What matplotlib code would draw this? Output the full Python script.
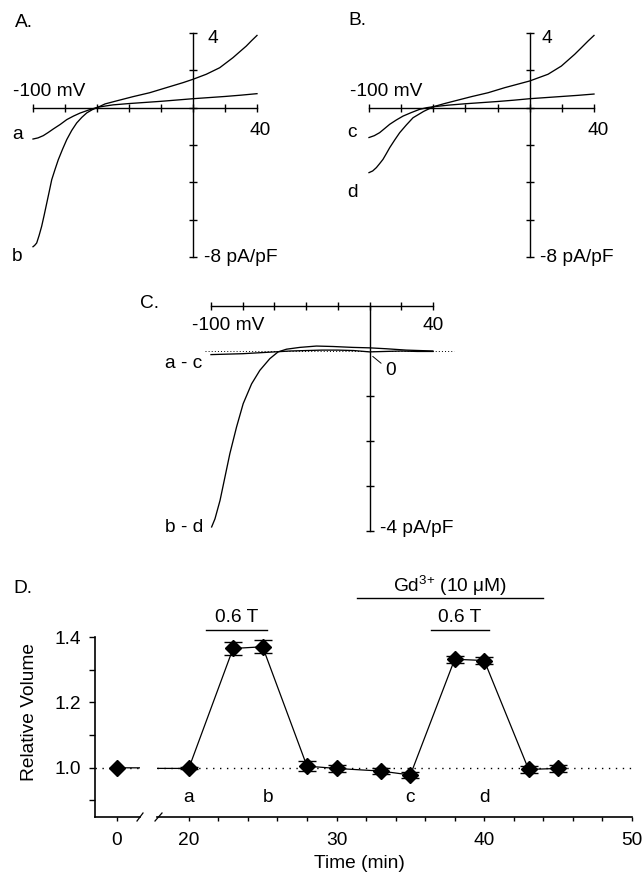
import matplotlib
matplotlib.use('Agg')
import matplotlib.pyplot as plt
from matplotlib.ticker import NullFormatter, FixedLocator
import numpy as np

plt.rcParams['font.family'] = ['Liberation Sans', 'DejaVu Sans']
plt.rcParams['mathtext.fontset'] = 'custom'
plt.rcParams['mathtext.rm'] = 'Liberation Sans'
plt.rcParams['mathtext.it'] = 'Liberation Sans:italic'
plt.rcParams['mathtext.default'] = 'regular'
FS = 13.8

# ---------------- data ----------------
# Panel A: I-V curves (mV, pA/pF)
A_a_mv = [-100, -96.9, -93.6, -90.5, -87.3, -83, -78.9, -74.7, -70.6, -65, -59.2, -50, -40, -30, -20, -10, 0, 10, 20, 30, 40]
A_a_i = [-1.68, -1.62, -1.50, -1.33, -1.14, -0.90, -0.64, -0.45, -0.29, -0.12, 0.03, 0.15, 0.22, 0.28, 0.34, 0.41, 0.48, 0.54, 0.60, 0.67, 0.75]
A_b_mv = [-100, -99, -97.7, -96.2, -94.6, -93, -91.4, -89.8, -88.3, -86.2, -84.2, -81.5, -78.9, -75.8, -72.7, -69.5, -66.4, -62.8, -59.2,
          -55, -47.9, -37.5, -27.1, -16.7, -6.25, 0, 8.3, 16.7, 25, 29, 33.3, 36.5, 40]
A_b_i = [-7.45, -7.38, -7.25, -6.85, -6.36, -5.75, -5.11, -4.47, -3.86, -3.30, -2.79, -2.22, -1.71, -1.22, -0.82, -0.52, -0.28, -0.10, 0.03,
         0.20, 0.36, 0.59, 0.80, 1.07, 1.34, 1.52, 1.79, 2.14, 2.68, 2.98, 3.30, 3.58, 3.87]
# Panel B
B_c_mv = [-100, -96.7, -93.4, -90.3, -87.1, -83, -78.8, -73.6, -68.5, -64, -60, -50, -40, -30, -20, -10, 0, 10, 20, 30, 40]
B_c_i = [-1.6, -1.50, -1.34, -1.12, -0.89, -0.66, -0.45, -0.26, -0.09, 0.0, 0.05, 0.14, 0.21, 0.27, 0.33, 0.40, 0.48, 0.54, 0.60, 0.66, 0.73]
B_d_mv = [-100, -97.7, -95.4, -93.4, -91.3, -89.2, -87.1, -84, -80.9, -76.8, -72.6, -66, -60, -53, -46.7, -36.3, -25.9, -15.6, 0,
          11.4, 19.7, 28, 32, 36.3, 40]
B_d_i = [-3.48, -3.39, -3.21, -3.0, -2.77, -2.46, -2.14, -1.73, -1.34, -0.93, -0.54, -0.20, 0.05, 0.22, 0.36, 0.59, 0.80, 1.07, 1.43,
         1.79, 2.23, 2.86, 3.20, 3.57, 3.87]
# Panel C: difference currents
C_ac_mv = [-100, -90, -80, -70, -60, -50, -40, -30, -20, -10, 0, 10, 20, 30, 40]
C_ac_i = [-0.08, -0.07, -0.06, -0.04, -0.02, 0.0, 0.01, 0.02, 0.02, 0.01, -0.02, -0.01, 0.0, -0.01, -0.01]
C_bd_mv = [-99.6, -97.5, -94.3, -91.2, -88.1, -83.9, -79.7, -74.4, -69.2, -62.9, -57.7, -52.4, -44.0, -33.5, -23.1, -10.5, 0, 10.5, 23.1, 39.9]
C_bd_i = [-3.91, -3.73, -3.32, -2.80, -2.28, -1.69, -1.17, -0.73, -0.43, -0.17, -0.02, 0.04, 0.08, 0.11, 0.10, 0.08, 0.07, 0.05, 0.02, 0.0]

# Panel D: relative volume time course
time_min = [0, 20, 23, 25, 28, 30, 33, 35, 38, 40, 43, 45]
rel_vol = [1.0, 0.998, 1.365, 1.370, 1.005, 0.998, 0.990, 0.978, 1.332, 1.328, 0.995, 0.998]
rel_err = [0.0, 0.003, 0.02, 0.02, 0.015, 0.01, 0.01, 0.01, 0.01, 0.012, 0.01, 0.012]
field_periods = [(21.15, 25.3), (36.4, 40.3)]
gd_period = (31.4, 44.0)
point_labels = ['a', 'b', 'c', 'd']
point_label_times = [20, 25.4, 35, 40]

# ---------------- figure ----------------
W, H = 643, 881
fig = plt.figure(figsize=(W / 100, H / 100), dpi=100)


def px_axes(x0, y0, x1, y1):
    ax = fig.add_axes([x0 / W, 1 - y1 / H, (x1 - x0) / W, (y1 - y0) / H])
    ax.patch.set_visible(False)
    return ax


def ftext(x, y, s, ha='left', va='baseline', **kw):
    fig.text(x / W, 1 - y / H, s, ha=ha, va=va, fontsize=FS, **kw)


def iv_axes(x0, y0, x1, y1):
    ax = px_axes(x0, y0, x1, y1)
    ax.set_xlim(-100, 40)
    ax.set_ylim(-8, 4)
    ax.spines['top'].set_visible(False)
    ax.spines['right'].set_visible(False)
    ax.spines['left'].set_position(('data', 0))
    ax.spines['bottom'].set_position(('data', 0))
    for s in ('left', 'bottom'):
        ax.spines[s].set_linewidth(1.0)
    ax.set_xticks(range(-100, 41, 20))
    ax.set_yticks(range(-8, 5, 2))
    ax.xaxis.set_major_formatter(NullFormatter())
    ax.yaxis.set_major_formatter(NullFormatter())
    ax.tick_params(direction='inout', length=6, width=1.0)
    return ax


lw_c = 0.95
# Panel A
axA = iv_axes(33, 33, 257, 257)
axA.plot(A_a_mv, A_a_i, color='k', lw=lw_c, clip_on=False)
axA.plot(A_b_mv, A_b_i, color='k', lw=lw_c, clip_on=False)
ftext(15, 27, 'A.')
ftext(207, 43, '4')
ftext(13, 96, '-100 mV')
ftext(250, 135, '40')
ftext(12, 139, 'a')
ftext(12, 261, 'b')
ftext(204, 262, '-8 pA/pF')

# Panel B
axB = iv_axes(369, 33, 594, 257)
axB.plot(B_c_mv, B_c_i, color='k', lw=lw_c, clip_on=False)
axB.plot(B_d_mv, B_d_i, color='k', lw=lw_c, clip_on=False)
ftext(348, 25, 'B.')
ftext(542, 43, '4')
ftext(350, 96, '-100 mV')
ftext(587, 135, '40')
ftext(347, 137, 'c')
ftext(347, 197, 'd')
ftext(540, 262, '-8 pA/pF')

# Panel C
axC = px_axes(211, 306, 433, 531)
axC.set_xlim(-100, 40)
axC.set_ylim(-4, 1)
axC.spines['bottom'].set_visible(False)
axC.spines['right'].set_visible(False)
axC.spines['left'].set_position(('data', 0))
for s in ('left', 'top'):
    axC.spines[s].set_linewidth(1.0)
axC.xaxis.tick_top()
axC.set_xticks(range(-100, 41, 20))
axC.set_yticks([-4, -3, -2, -1])
axC.xaxis.set_major_formatter(NullFormatter())
axC.yaxis.set_major_formatter(NullFormatter())
axC.tick_params(direction='inout', length=6, width=1.0)
axC.plot([-104, 53.5], [0, 0], color='k', lw=0.7, ls=(0, (1, 2.2)), clip_on=False)
axC.plot(C_ac_mv, C_ac_i, color='k', lw=lw_c, clip_on=False)
axC.plot(C_bd_mv, C_bd_i, color='k', lw=lw_c, clip_on=False)
axC.annotate('0', xy=(2.0, -0.12), xytext=(9.7, -0.54), fontsize=FS, va='baseline', ha='left',
             arrowprops=dict(arrowstyle='-', lw=0.7, color='k', shrinkA=1, shrinkB=0))
ftext(140, 308, 'C.')
ftext(192, 330, '-100 mV')
ftext(422, 330, '40')
ftext(165, 368, 'a - c')
ftext(165, 532, 'b - d')
ftext(380, 533, '-4 pA/pF')

# Panel D
ylo, yhi = 0.8495, 1.4
axL = px_axes(95, 637, 140, 817)
axR = px_axes(157, 637, 632, 817)
t = np.array(time_min)
v = np.array(rel_vol)
e = np.array(rel_err)
m = e > 0
for ax in (axL, axR):
    ax.set_ylim(ylo, yhi)
    ax.spines['top'].set_visible(False)
    ax.spines['right'].set_visible(False)
    for s in ('left', 'bottom'):
        ax.spines[s].set_linewidth(1.2)
    ax.axhline(1.0, color='k', lw=1.0, ls=(0, (1, 4)), zorder=1)
    ax.plot(t, v, '-', color='k', lw=0.9, zorder=2)
    ax.errorbar(t[m], v[m], yerr=e[m], fmt='none', ecolor='k', elinewidth=1.0,
                capsize=6.5, capthick=1.0, zorder=3)
    ax.plot(t, v, 'D', color='k', ms=8.2, zorder=4)

axL.set_xlim(-1.49, 1.55)
axR.set_xlim(17.85, 50)
axL.set_yticks([1.0, 1.2, 1.4])
axL.set_yticklabels(['1.0', '1.2', '1.4'])
axL.yaxis.set_minor_locator(FixedLocator([0.9, 1.1, 1.3]))
axL.tick_params(axis='y', which='both', direction='out', length=4.3, width=1.0, pad=5.8, labelsize=FS)
axL.set_xticks([0])
axL.set_xticklabels(['0'])
axL.tick_params(axis='x', direction='out', length=3, width=1.0, pad=7.5, labelsize=FS)

axR.spines['left'].set_visible(False)
axR.tick_params(axis='y', which='both', left=False, labelleft=False)
axR.set_xticks([20, 30, 40, 50])
axR.set_xticklabels(['20', '30', '40', '50'])
axR.xaxis.set_minor_locator(FixedLocator([22, 24, 26, 28, 32, 34, 36, 38, 42, 44, 46, 48]))
axR.tick_params(axis='x', which='both', direction='out', length=3, width=1.0, pad=7.5, labelsize=FS)

# break marks
kw = dict(color='k', lw=0.9, clip_on=False)
axL.plot([(137 - 95) / 45, (143 - 95) / 45], [-4 / 180, 4 / 180], transform=axL.transAxes, **kw)
axR.plot([(155 - 157) / 475, (162 - 157) / 475], [-4 / 180, 4 / 180], transform=axR.transAxes, **kw)

# treatment bars
bar_y = yhi + (637 - 630) / 327
txt_y = yhi + (637 - 622) / 327
for (t0, t1) in field_periods:
    axR.plot([t0, t1], [bar_y, bar_y], color='k', lw=1.0, clip_on=False)
    axR.text((t0 + t1) / 2, txt_y, '0.6 T', ha='center', va='baseline', fontsize=FS)
gd_y = yhi + (637 - 598) / 327
gd_txt = yhi + (637 - 592) / 327
axR.plot(list(gd_period), [gd_y, gd_y], color='k', lw=1.0, clip_on=False)
axR.text(sum(gd_period) / 2, gd_txt, r'Gd$^{3{+}}\ $(10 μM)', ha='center', va='baseline', fontsize=FS)

lab_y = yhi - (802 - 637) / 327
for lab, tt in zip(point_labels, point_label_times):
    axR.text(tt, lab_y, lab, ha='center', va='baseline', fontsize=FS)

ftext(13, 593, 'D.')
ftext(30, 712, 'Relative Volume', ha='center', va='center', rotation=90)
ftext(359, 868, 'Time (min)', ha='center')

fig.savefig('out.png', dpi=100)
